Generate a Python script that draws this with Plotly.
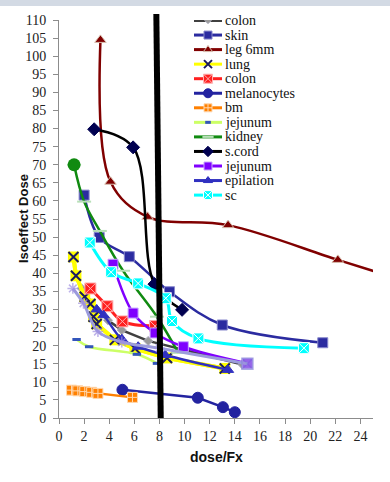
import plotly.graph_objects as go

# ---- isoeffect dose vs dose per fraction, one curve per tissue/endpoint ----
colon_g_x = [1.8, 3.0, 3.9, 5.0, 7.1, 14.6]
colon_g_y = [35.8, 30.0, 27.0, 24.3, 21.3, 14.8]

skin_x = [2.0, 3.2, 5.6, 8.8, 13.0, 21.0]
skin_y = [61.6, 49.9, 44.6, 34.9, 25.7, 20.8]

leg_x = [3.3, 4.1, 7.05, 13.46, 22.2, 27.0]
leg_y = [104.5, 65.3, 55.6, 53.3, 43.7, 38.5]

lung_x = [1.15, 1.35, 2.05, 2.5, 2.75, 3.0, 4.45, 6.05, 8.6, 13.2]
lung_y = [44.5, 39.3, 33.5, 31.5, 28.0, 26.0, 21.6, 19.2, 16.6, 13.7]

colon_r_x = [2.5, 3.85, 5.05, 7.65]
colon_r_y = [35.8, 30.9, 26.7, 25.4]

mel_x = [5.05, 11.05, 13.05, 14.0]
mel_y = [7.8, 5.6, 3.0, 1.6]

bm_x = [1.0, 1.5, 2.05, 2.6, 3.1, 5.85]
bm_y = [7.7, 7.5, 7.3, 7.1, 6.8, 5.7]

jej_g_x = [1.4, 2.4, 6.2, 7.8]
jej_g_y = [21.7, 19.7, 17.6, 15.1]

kidney_x = [1.2, 2.0, 3.25, 5.1, 7.8, 9.5]
kidney_y = [70.0, 59.8, 51.7, 40.7, 28.0, 18.0]

scord_x = [2.8, 5.9, 7.6, 9.8]
scord_y = [79.8, 74.8, 37.0, 29.9]

jej_p_x = [4.3, 5.9, 7.65, 9.9, 15.0]
jej_p_y = [42.5, 29.0, 23.5, 19.7, 15.1]

epil_x = [3.0, 3.55, 5.0, 6.3, 8.45, 13.45]
epil_y = [30.0, 28.4, 21.8, 19.7, 17.4, 13.3]

sc_x = [2.45, 4.15, 6.3, 8.5, 9.0, 11.1, 19.5]
sc_y = [48.5, 40.3, 37.2, 33.1, 26.8, 22.0, 19.3]

extra_x = [1.1, 1.95, 3.1, 5.0, 8.0, 15.0]
extra_y = [35.8, 31.7, 23.9, 21.0, 19.3, 15.0]

threshold_dose = 8

series = [
    dict(name="colon", x=colon_g_x, y=colon_g_y, lc="#404040", lw=2.5, shape="linear",
         sym="diamond", mc="#9a9a9a", ml="#b0b0c0", ms=7),
    dict(name="skin", x=skin_x, y=skin_y, lc="#2b2ba0", lw=2.5, shape="spline",
         sym="square", mc="#2b2ba0", ml="#8888cc", ms=10),
    dict(name="leg 6mm", x=leg_x, y=leg_y, lc="#800000", lw=2.5, shape="spline",
         sym="triangle-up", mc="#800000", ml="#d8c0b0", ms=10),
    dict(name="lung", x=lung_x, y=lung_y, lc="#ffff00", lw=4, shape="linear",
         sym="x-thin", mc="#1a1a60", ml="#1a1a60", ms=10, mlw=2),
    dict(name="colon", x=colon_r_x, y=colon_r_y, lc="#ff2020", lw=3, shape="spline",
         sym="square-x", mc="#ff2020", ml="#ffb0b0", ms=11),
    dict(name="melanocytes", x=mel_x, y=mel_y, lc="#2323a0", lw=2.5, shape="linear",
         sym="circle", mc="#2323a0", ml="#2323a0", ms=11),
    dict(name="bm", x=bm_x, y=bm_y, lc="#ff8000", lw=2.5, shape="linear",
         sym="square-cross", mc="#ff8000", ml="#ffd8b0", ms=10),
    dict(name="jejunum", x=jej_g_x, y=jej_g_y, lc="#ccff66", lw=2.5, shape="spline",
         sym="line-ew-open", mc="#3355bb", ml="#3355bb", ms=6, mlw=3),
    dict(name="kidney", x=kidney_x, y=kidney_y, lc="#108a10", lw=2.5, shape="spline",
         sym="line-ew-open", mc="#b8e0b8", ml="#b8e0b8", ms=10, mlw=2),
    dict(name="s.cord", x=scord_x, y=scord_y, lc="#000000", lw=2.5, shape="spline",
         sym="diamond", mc="#000050", ml="#000050", ms=10),
    dict(name="jejunum", x=jej_p_x, y=jej_p_y, lc="#8000ff", lw=2.5, shape="spline",
         sym="square", mc="#7f00ff", ml="#c8a8ff", ms=10),
    dict(name="epilation", x=epil_x, y=epil_y, lc="#3030c0", lw=2.5, shape="spline",
         sym="triangle-up", mc="#3030c0", ml="#3030c0", ms=10),
    dict(name="sc", x=sc_x, y=sc_y, lc="#00ffff", lw=3, shape="spline",
         sym="square-x", mc="#00ffff", ml="#ffffff", ms=11),
]

fig = go.Figure()

for s in series:
    if s["name"] == "lung":
        # yellow backing squares behind the X markers
        fig.add_trace(go.Scatter(
            x=s["x"], y=s["y"], mode="lines", showlegend=False,
            line=dict(color=s["lc"], width=s["lw"]),
        ))
        fig.add_trace(go.Scatter(
            x=s["x"], y=s["y"], mode="markers", showlegend=False,
            marker=dict(symbol="square", color="#ffff00", size=11),
        ))
    fig.add_trace(go.Scatter(
        x=s["x"], y=s["y"], mode="lines+markers", name=s["name"], showlegend=False,
        line=dict(color=s["lc"], width=s["lw"], shape=s["shape"], smoothing=1),
        marker=dict(symbol=s["sym"], color=s["mc"], size=s["ms"],
                    line=dict(color=s["ml"], width=s.get("mlw", 1))),
    ))

# kidney starts with a round marker
fig.add_trace(go.Scatter(
    x=kidney_x[:1], y=kidney_y[:1], mode="markers", showlegend=False,
    marker=dict(symbol="circle", color="#108a10", size=13),
))

# unlabelled lavender curve drawn on top
fig.add_trace(go.Scatter(
    x=extra_x, y=extra_y, mode="lines+markers", showlegend=False,
    line=dict(color="#9c9cdc", width=3, shape="spline", smoothing=1),
    marker=dict(symbol=["asterisk-open"] * (len(extra_x) - 1) + ["square-x"],
                size=[9] * (len(extra_x) - 1) + [11],
                color="#a090e0",
                line=dict(color="#8a8ad8", width=1.5)),
))

# compact legend drawn on a small inset axis
for i, s in enumerate(series):
    fig.add_trace(go.Scatter(
        x=[0, 0.5, 1], y=[i, i, i], xaxis="x2", yaxis="y2", mode="lines+markers",
        showlegend=False, hoverinfo="skip",
        line=dict(color=s["lc"], width=3),
        marker=dict(symbol=s["sym"], color=s["mc"], size=s["ms"] - 2,
                    opacity=[0, 1, 0],
                    line=dict(color=s["ml"], width=s.get("mlw", 1))),
    ))
    fig.add_annotation(x=1, y=i, xref="x2", yref="y2", text=s["name"],
                       showarrow=False, xanchor="left", xshift=1,
                       font=dict(family="Liberation Serif", size=14, color="#111"))

W, H = 390, 482
ml, mr, mt, mb = 59, 17, 20, 64
pw, ph = W - ml - mr, H - mt - mb
row0, row_gap = 20.5, 14.55
leg_left, leg_right = 194, 222
dom_top_px = mt
dom_bot_px = 200
span = (dom_bot_px - dom_top_px) / row_gap
top_val = -(row0 - dom_top_px) / row_gap

fig.update_layout(
    width=W, height=H,
    margin=dict(l=ml, r=mr, t=mt, b=mb),
    paper_bgcolor="white", plot_bgcolor="white",
    showlegend=False,
    xaxis=dict(range=[0, 25], dtick=2, tick0=0, showgrid=False, zeroline=False,
               showline=True, linecolor="#8c8c8c", linewidth=1,
               ticks="outside", ticklen=5, tickcolor="#8c8c8c",
               tickfont=dict(family="Liberation Serif", size=14, color="#222")),
    yaxis=dict(range=[0, 110], dtick=5, tick0=0, showgrid=False, zeroline=False,
               showline=True, linecolor="#8c8c8c", linewidth=1,
               ticks="outside", ticklen=5, tickcolor="#8c8c8c",
               ticklabelstandoff=4,
               tickfont=dict(family="Liberation Serif", size=14, color="#222")),
    xaxis2=dict(domain=[(leg_left - ml) / pw, (leg_right - ml) / pw], range=[0, 1],
                visible=False, anchor="y2"),
    yaxis2=dict(domain=[(H - mb - dom_bot_px) / ph, 1.0],
                range=[top_val + span, top_val], visible=False, anchor="x2"),
    shapes=[
        dict(type="rect", xref="paper", yref="paper", x0=-0.2, x1=1.1,
             y0=1 + (mt - 6) / ph, y1=1 + mt / ph + 0.01,
             fillcolor="#d3dae4", line=dict(width=0), layer="above"),
        dict(type="line", xref="x", yref="paper", x0=threshold_dose + 0.1, y0=0,
             x1=threshold_dose - 0.25, y1=1 + 6 / ph,
             line=dict(color="black", width=6), layer="above"),
    ],
)

fig.add_annotation(text="<b>Isoeffect Dose</b>", xref="paper", yref="paper",
                   x=(23 - ml) / pw, y=0.5, textangle=-90, showarrow=False,
                   xanchor="center", yanchor="middle",
                   font=dict(family="Liberation Sans", size=13, color="#111"))
fig.add_annotation(text="<b>dose/Fx</b>", xref="paper", yref="paper",
                   x=0.5, y=-(457 - (H - mb)) / ph, showarrow=False,
                   xanchor="center", yanchor="middle",
                   font=dict(family="Liberation Sans", size=14, color="#111"))

fig.write_html("out.html")
